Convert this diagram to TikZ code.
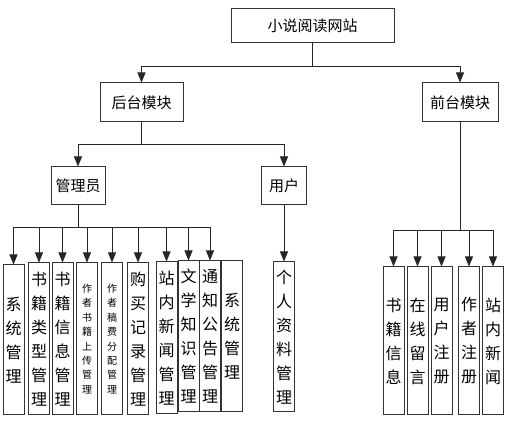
\documentclass[tikz,border=0pt]{standalone}
\usepackage{fontspec}
\setmainfont{Noto Sans CJK SC}
\usetikzlibrary{arrows.meta}

\begin{document}
\begin{tikzpicture}[x=1pt,y=-1pt,
box/.style={draw=black!80, line width=1pt, inner sep=0pt, font=\fontsize{15}{18}\selectfont},
colbox/.style={box, minimum width=21pt, minimum height=150pt, align=center, font=\fontsize{16}{24}\selectfont},
smallbox/.style={colbox, font=\fontsize{10}{14.4}\selectfont},
link/.style={draw=black!85, line width=0.8pt},
arrowlink/.style={link, -{Triangle[length=10pt,width=8pt]}}
]
\fill[white] (0,0) rectangle (517,443);
\useasboundingbox (0,0) rectangle (517,443);

\node [box, minimum width=163pt, minimum height=34pt] (root) at (312.5,26) {小说阅读网站};

    \node [box, minimum width=83pt, minimum height=39pt] (hou) at (141.5,102.5) {后台模块};
    \node [box, minimum width=76pt, minimum height=39pt] (qian) at (460,102.5) {前台模块};

    \node [box, minimum width=54pt, minimum height=38pt] (admin) at (78,186) {管理员};
    \node [box, minimum width=45pt, minimum height=38pt] (user) at (284,186) {用户};

    % admin modules
    \node [colbox] (a1) at (13.5,340) {系\\统\\管\\理};
    \node [colbox, minimum height=152pt] (a2) at (39,339) {书\\籍\\类\\型\\管\\理};
    \node [colbox, minimum height=152pt] (a3) at (62.5,339) {书\\籍\\信\\息\\管\\理};
    \node [smallbox, minimum height=152pt] (a4) at (87,339) {作\\者\\书\\籍\\上\\传\\管\\理};
    \node [smallbox, minimum height=152pt] (a5) at (112,339) {作\\者\\稿\\费\\分\\配\\管\\理};
    \node [colbox, minimum height=152pt] (a6) at (138,339) {购\\买\\记\\录\\管\\理};
    \node [colbox, minimum height=152pt] (a7) at (166.5,338) {站\\内\\新\\闻\\管\\理};
    \node [colbox, minimum height=151pt] (a8) at (188.5,336.5) {文\\学\\知\\识\\管\\理};
    \node [colbox, minimum height=151pt] (a9) at (210,336.5) {通\\知\\公\\告\\管\\理};
    \node [colbox, minimum height=151pt] (a10) at (232,336.5) {系\\统\\管\\理};

    % user module
    \node [colbox] (u1) at (284,337) {个\\人\\资\\料\\管\\理};

    % front modules
    \node [colbox, minimum height=148pt] (q1) at (393.5,341) {书\\籍\\信\\息};
    \node [colbox, minimum height=148pt] (q2) at (417.5,341) {在\\线\\留\\言};
    \node [colbox, minimum height=148pt] (q3) at (441.5,341) {用\\户\\注\\册};
    \node [colbox, minimum height=148pt] (q4) at (469,341) {作\\者\\注\\册};
    \node [colbox, minimum height=148pt] (q5) at (493,341) {站\\内\\新\\闻};

    \coordinate (j0) at (312.5,66);
    \coordinate (j1) at (141.5,144);
    \coordinate (j2) at (78,227);
    \coordinate (j3) at (460,230);

    \draw [link] (root) -- (j0);
    \draw [arrowlink] (j0) -| (hou);
    \draw [arrowlink] (j0) -| (qian);
    \draw [link] (hou) -- (j1);
    \draw [arrowlink] (j1) -| (admin);
    \draw [arrowlink] (j1) -| (user);
    \draw [link] (admin) -- (j2);
    \foreach \m in {a1,a2,a3,a4,a5,a6,a7,a8,a9}
        \draw [arrowlink] (j2) -| (\m);
    \draw [arrowlink] (user) -- (u1);
    \draw [link] (qian) -- (j3);
    \foreach \m in {q1,q2,q3,q4,q5}
        \draw [arrowlink] (j3) -| (\m);
    \end{tikzpicture}
\end{document}
